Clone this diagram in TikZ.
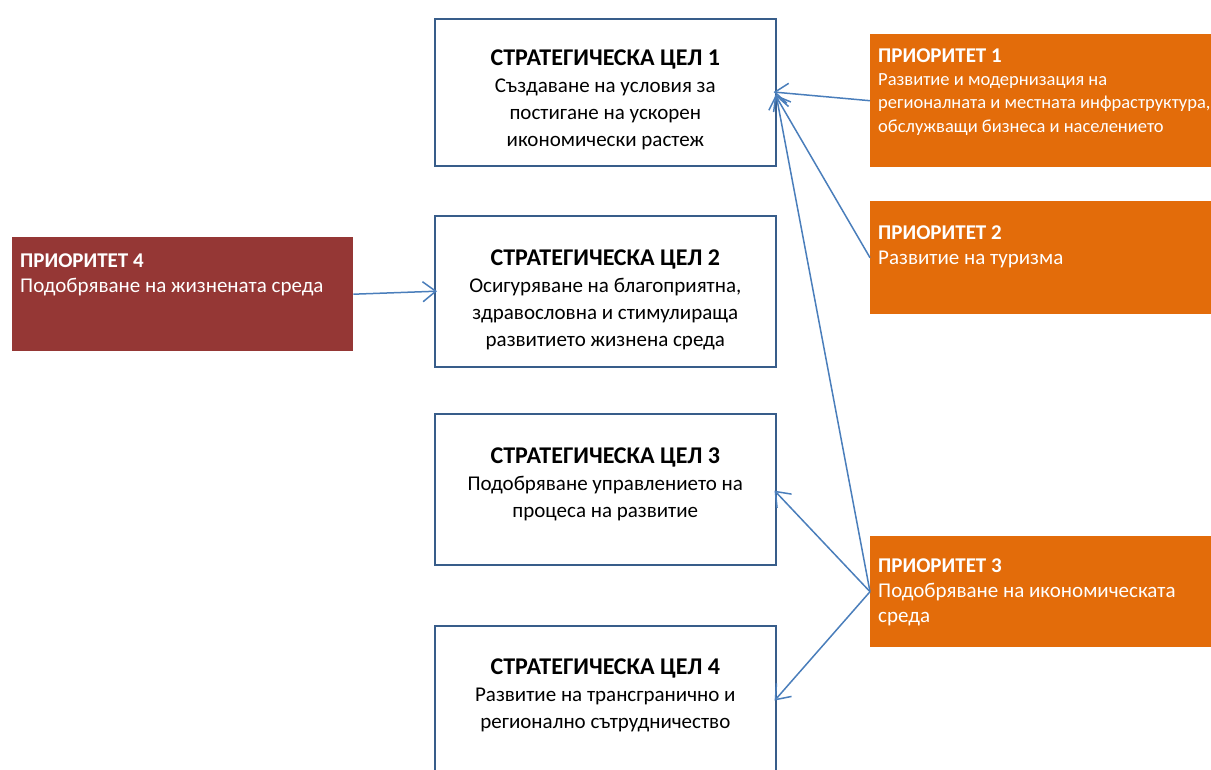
\documentclass[tikz,border=0pt]{standalone}
\usepackage{fontspec}
\setmainfont{Carlito}
\usetikzlibrary{positioning,arrows.meta}

\definecolor{boxblue}{HTML}{385D8A}
\definecolor{arrowblue}{HTML}{4A7EBB}
\definecolor{prioorange}{HTML}{E36C0A}
\definecolor{priored}{HTML}{953735}

\newcommand{\goaltitle}[1]{{\fontsize{24}{27}\selectfont\bfseries #1}}
\newcommand{\priotitle}[1]{{\fontsize{21}{25}\selectfont\bfseries #1}}

\begin{document}
\begin{tikzpicture}[x=1pt,y=-1pt,
    goal/.style={draw=boxblue,line width=1.6pt,fill=white,rectangle,
        minimum width=341pt,anchor=north west,inner sep=0pt},
    goaltext/.style={align=center,anchor=north,inner sep=0pt,
        font=\fontsize{21}{27}\selectfont},
    prio/.style={fill=prioorange,rectangle,minimum width=345pt,
        anchor=north west,inner sep=0pt},
    priotext/.style={align=left,anchor=north west,inner sep=0pt,text=white,
        font=\fontsize{21}{25}\selectfont},
    link/.style={draw=arrowblue,line width=1.5pt,
        -{Straight Barb[length=13pt,width=20pt]},shorten >=-3pt}
    ]
    % page size
    \useasboundingbox (0,0) rectangle (1211,769);

    %strategic goals (middle column)
    \node[goal,minimum height=147pt] (g1) at (434,18) {};
    \node[goal,minimum height=151pt] (g2) at (434,215) {};
    \node[goal,minimum height=151pt] (g3) at (434,413) {};
    \node[goal,minimum height=145pt] (g4) at (434,625) {};

    \node[goaltext,below=32pt of g1.north] (g1t)
        {\goaltitle{СТРАТЕГИЧЕСКА ЦЕЛ 1}\\Създаване на условия за\\постигане на ускорен\\икономически растеж};
    \node[goaltext,below=34.5pt of g2.north] (g2t)
        {\goaltitle{СТРАТЕГИЧЕСКА ЦЕЛ 2}\\Осигуряване на благоприятна,\\здравословна и стимулираща\\развитието жизнена среда};
    \node[goaltext,below=34.5pt of g3.north] (g3t)
        {\goaltitle{СТРАТЕГИЧЕСКА ЦЕЛ 3}\\Подобряване управлението на\\процеса на развитие};
    \node[goaltext,below=33.5pt of g4.north] (g4t)
        {\goaltitle{СТРАТЕГИЧЕСКА ЦЕЛ 4}\\Развитие на трансгранично и\\регионално сътрудничество};

    %priorities
    \node[prio,minimum height=133pt] (p1) at (870,34) {};
    \node[prio,minimum height=113pt] (p2) at (870,201) {};
    \node[prio,minimum height=111pt] (p3) at (870,536) {};
    \node[prio,fill=priored,minimum width=341pt,minimum height=114pt] (p4) at (12,237) {};

    \node[priotext,below right=14.3pt and 8pt of p1.north west,
        font=\fontsize{18.5}{23.3}\selectfont] (p1t)
        {\priotitle{ПРИОРИТЕТ 1}\\Развитие и модернизация на\\регионалната и местната инфраструктура,\\обслужващи бизнеса и населението};
    \node[priotext,below right=24.3pt and 8pt of p2.north west] (p2t)
        {\priotitle{ПРИОРИТЕТ 2}\\Развитие на туризма};
    \node[priotext,below right=22.3pt and 8pt of p3.north west] (p3t)
        {\priotitle{ПРИОРИТЕТ 3}\\Подобряване на икономическата\\среда};
    \node[priotext,below right=16.3pt and 8pt of p4.north west] (p4t)
        {\priotitle{ПРИОРИТЕТ 4}\\Подобряване на жизнената среда};

    %arrows from priorities to goals
    \draw[link] (p1.west) -- (g1.east);
    \draw[link] (p2.west) -- ([yshift=-5pt]g1.east);
    \draw[link] (p3.west) -- ([yshift=-5pt]g1.east);
    \draw[link] (p3.west) -- ([yshift=-3.5pt]g3.east);
    \draw[link] (p3.west) -- (g4.east);
    \draw[link] (p4.east) -- (g2.west);
\end{tikzpicture}
\end{document}
